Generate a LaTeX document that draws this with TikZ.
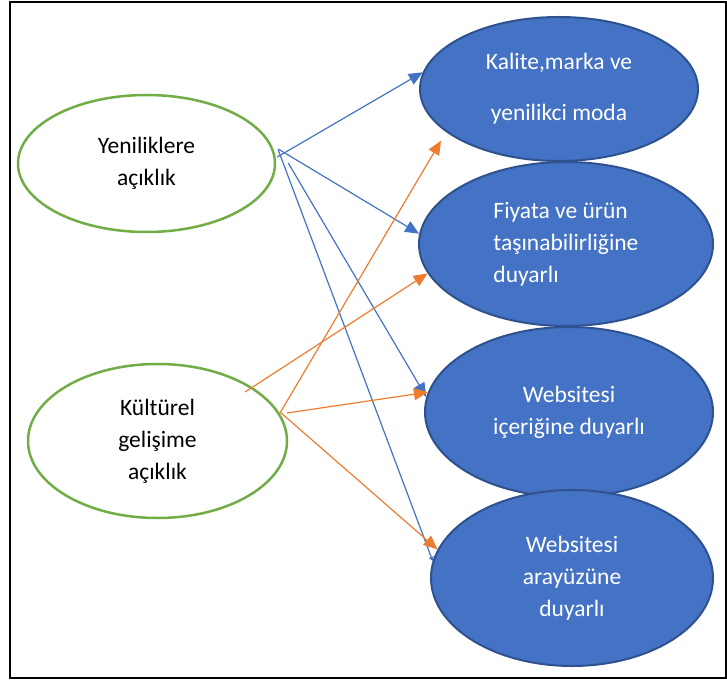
\documentclass[tikz,border=0pt]{standalone}
\usepackage{fontspec}
\setmainfont{Carlito}
\usetikzlibrary{shapes.geometric,arrows.meta}
\definecolor{grn}{HTML}{70AD47}
\definecolor{blu}{HTML}{4472C4}
\definecolor{bluedge}{HTML}{2F528F}
\definecolor{org}{HTML}{ED7D31}
\tikzset{
	gell/.style 2 args={ellipse,draw=grn,line width=2.5pt,inner sep=0pt,minimum width=#1,minimum height=#2,align=center,font=\fontsize{23.5}{32}\selectfont},
	bell/.style 2 args={ellipse,draw=bluedge,fill=blu,line width=2pt,inner sep=0pt,minimum width=#1,minimum height=#2,text=white,align=center,font=\fontsize{23.5}{32}\selectfont},
	barr/.style={draw=blu,line width=1.2pt,-{Triangle[length=14pt,width=12pt]}},
	oarr/.style={draw=org,line width=1.2pt,-{Triangle[length=14pt,width=12pt]}}
}
\begin{document}
\begin{tikzpicture}[x=1pt,y=1pt]
						\useasboundingbox (0,0) rectangle (727,681);
						\draw [line width=2.5pt] (10,3) rectangle (726,679);

						\node [gell={257pt}{137pt}] (yen) at (146.5,517.5) {Yeniliklere\\açıklık};
						\node [gell={259pt}{154pt}] (kul) at (157.5,240) {Kültürel\\gelişime\\açıklık};

						\node [bell={278pt}{144pt}] (kal) at (559,592) {Kalite,marka ve\\[19pt]yenilikci moda};
						\node [bell={294pt}{164pt},align=left] (fiy) at (566,437) {Fiyata ve ürün\\taşınabilirliğine\\duyarlı};
						\node [bell={288pt}{170pt}] (ice) at (569,269) {Websitesi\\içeriğine duyarlı};
						\node [bell={282pt}{176pt}] (ara) at (572,103) {Websitesi\\arayüzüne\\duyarlı};

						\draw [barr] ([shift={(1,6.5)}]yen.east) -- (kal.173);
						\draw [barr] ([shift={(2,14.5)}]yen.east) -- (fiy.176);
						\draw [barr] ([shift={(12,0.5)}]yen.east) -- (ice.174);
						\draw [barr,-{Triangle[length=4pt,width=5pt]}] ([shift={(2,13.5)}]yen.east) -- (ara.173);

						\draw [oarr] ([shift={(87.5,49)}]kul.center) -- (fiy.192);
						\draw [oarr] ([shift={(122.5,28)}]kul.center) -- ([xshift=-19pt]kal.south west);
						\draw [oarr] ([shift={(129.5,28)}]kul.center) -- (ice.172);
						\draw [oarr] ([shift={(122.5,29)}]kul.center) -- (ara.168);
					\end{tikzpicture}
\end{document}
